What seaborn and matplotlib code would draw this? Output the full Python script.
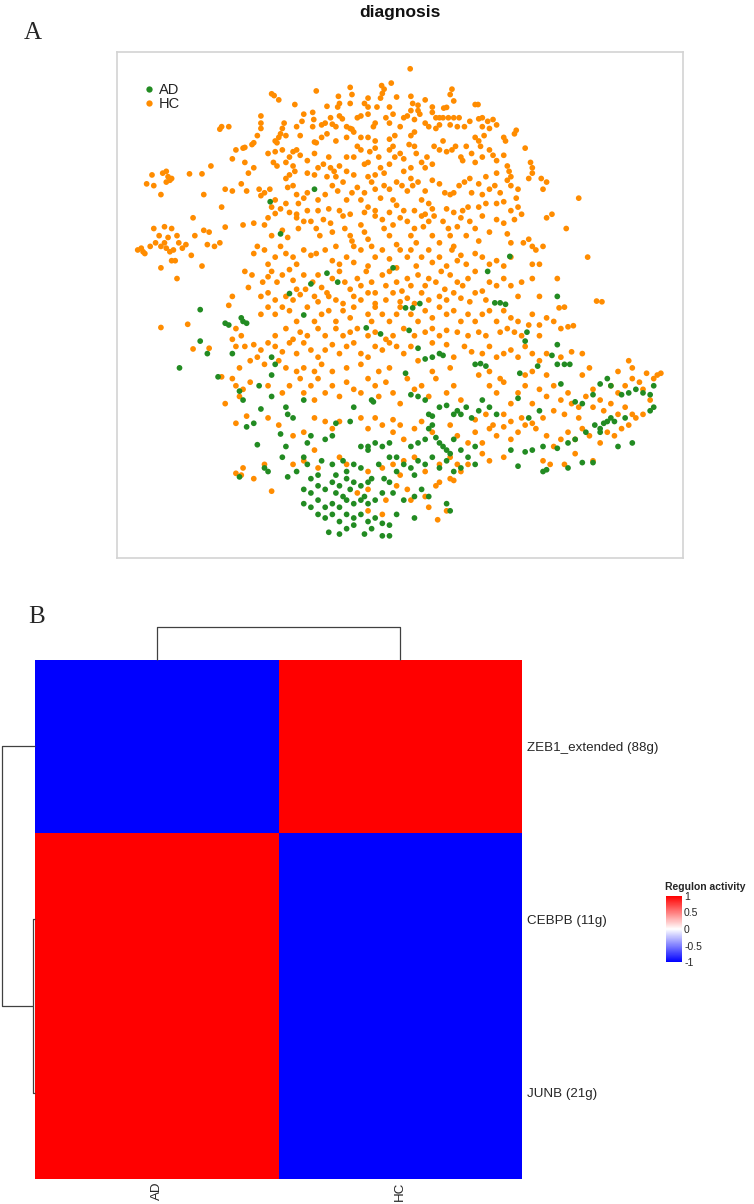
import numpy as np
import pandas as pd
import matplotlib
matplotlib.use("Agg")
import matplotlib.pyplot as plt
import seaborn as sns
from matplotlib.colors import LinearSegmentedColormap

# ---------------- data: panel A (UMAP-like embedding, arbitrary units) ----------------
hc_points = [
 (818,193),(738,240),(765,233),(745,250),(740,262),(650,245),(655,265),(555,255),(430,263),(437,268),(450,280),
 (617,270),(620,290),(615,300),(585,298),(495,293),(650,290),(690,290),(700,300),(700,275),(735,275),(780,272),
 (820,270),(825,290),(840,295),(860,280),(935,250),(930,265),(940,283),(880,300),(1000,293),(1008,293),(912,303),
 (920,301),(725,300),(760,300),
 (400,325),(400,345),(400,360),(390,380),(375,405),(380,400),(355,413),(290,355),(310,355),(285,362),(465,345),
 (460,360),(455,375),(450,385),(470,380),(440,395),(445,400),(520,320),(515,340),(500,355),(510,380),(545,315),
 (548,335),(545,355),(570,350),(580,345),(595,330),(600,348),(610,355),(620,325),(628,333),(640,355),(650,360),
 (655,362),(660,370),(670,330),(680,325),(700,320),(720,345),(715,355),(750,330),(760,345),(770,320),(790,355),
 (800,330),(810,325),(820,310),(830,335),(840,310),(845,320),(860,345),(870,355),(880,315),(890,330),(900,330),
 (910,330),(925,330),(940,330),(955,330),(930,350),(950,355),(970,355),(985,340),(1010,333),(1020,330),(1035,340),
 (1050,335),(1060,350),(1040,360),(1020,355),(900,350),(890,360),(830,370),(820,380),(775,380),(760,390),(720,395),
 (700,385),(680,385),(640,385),(610,395),(585,375),(570,385),(550,398),(1000,385),(1025,380),(1010,395),(1080,385),
 (1110,375),(1085,395),(1115,365),
 (350,415),(330,420),(320,445),(355,455),(380,470),(365,485),(260,465),(235,487),(200,487),(420,430),(440,425),
 (460,420),(435,455),(445,465),(470,455),(480,440),(490,425),(500,420),(510,435),(490,465),(495,480),(480,490),
 (470,500),(530,450),(550,430),(555,400),(560,470),(575,460),(590,440),(595,470),(605,480),(620,465),(640,440),
 (660,440),(670,410),(680,420),(690,460),(700,455),(705,425),(720,415),(730,440),(735,470),(745,485),(760,420),
 (770,410),(775,440),(790,430),(800,445),(815,405),(830,410),(835,430),(850,455),(865,440),(885,410),(900,420),
 (910,395),(920,425),(935,420),(945,410),(960,440),(965,450),(975,410),(990,430),(1000,455),(1015,410),(1020,440),
 (1040,420),(1050,435),(1060,450),(1080,435),(1090,465),(1095,480),(1140,415),(1155,455),(1160,470),(1160,485),
 (1185,500),(1200,510),(880,460),(860,470),(820,470),(800,480),(760,460),(720,490),(700,495),(660,490),(640,480),
 (610,495),(585,495),(550,490),(530,485),(1030,495),(1060,485),(1100,495),
 (300,530),(320,535),(240,545),(290,580),(345,515),(360,535),(395,530),(400,548),(410,540),(425,530),(430,580),
 (440,560),(455,585),(470,570),(475,525),(490,520),(500,545),(505,570),(520,555),(530,540),(560,560),(580,545),
 (600,520),(615,535),(630,510),(640,560),(655,540),(670,525),(680,560),(690,540),(700,580),(710,510),(720,530),
 (735,555),(745,520),(760,530),(770,560),(780,510),(795,520),(810,535),(820,500),(825,520),(840,510),(850,560),
 (860,535),(870,570),(880,505),(900,515),(915,540),(930,545),(940,540),(955,520),(970,510),(985,500),(990,540),
 (1010,515),(1020,545),(1040,530),(1055,520),(1070,540),(1090,505),(1100,520),(1115,555),(1120,530),(1150,500),
 (1190,530),(1290,555),(1010,580),(1030,570),(1060,570),(1080,565),(1100,590),(1120,580),(965,590),(980,580),
 (940,595),(920,585),(880,585),(860,600),(830,590),(800,590),(780,575),(760,595),(720,590),(690,595),(650,600),
 (620,590),(590,585),(560,590),(530,590),(500,600),(480,595),
 (80,515),(95,490),(100,520),(120,545),(125,485),(135,480),(140,495),(145,505),(150,500),(135,510),
 (55,700),(70,705),(65,695),(75,710),(90,690),(105,680),(120,690),(130,680),(140,665),(135,695),(145,705),
 (155,700),(150,730),(160,730),(170,680),(180,695),(190,685),(205,715),(120,750),(165,780),(235,745),(250,685),
 (270,690),(285,680),(100,640),(115,660),(130,635),(150,640),(165,660),(210,610),(215,660),(240,645),(255,650),
 (300,636),(350,630),(380,625),(410,630),(420,610),(440,598),
 (430,660),(460,645),(475,665),(455,690),(500,610),(520,620),(505,640),(540,620),(555,640),(565,660),(575,615),
 (595,625),(600,650),(610,690),(630,605),(635,640),(650,660),(655,675),(660,690),(680,630),(690,650),(700,670),
 (710,690),(720,605),(740,615),(745,640),(760,660),(770,630),(780,685),(790,610),(810,620),(820,660),(830,640),
 (835,680),(850,605),(855,635),(870,620),(880,660),(885,605),(900,680),(910,620),(925,640),(930,660),(940,690),
 (950,635),(960,610),(975,660),(985,620),(1000,640),(1010,675),(1020,605),(1040,650),(1060,615),(1080,625),
 (1090,655),(1100,680),(1110,615),(1130,600),(1135,680),(1150,670),(1160,690),(1170,700),(1190,690),(1215,600),
 (1255,640),(1315,720),(1200,610),
 (380,710),(390,690),(410,700),(420,740),(440,720),(470,710),(490,720),(500,740),(520,700),(540,715),(555,710),
 (580,700),(600,730),(620,740),(640,720),(660,735),(680,700),(700,745),(720,720),(740,700),(760,725),(780,750),
 (790,700),(810,720),(820,700),(835,745),(850,720),(870,700),(880,735),(900,720),(920,745),(935,700),(950,730),
 (960,715),(975,740),(1000,710),(1020,720),(1040,740),(1060,730),(1080,745),(1100,720),(1160,740),(1180,740),
 (355,760),(375,770),(365,805),(405,790),(420,775),(430,760),(445,790),(460,770),(480,755),(490,785),(500,810),
 (520,770),(545,790),(560,770),(570,805),(585,820),(600,780),(620,760),(635,790),(650,810),(670,780),(680,800),
 (695,760),(710,790),(720,820),(740,770),(750,800),(760,760),(780,790),(795,815),(810,780),(820,800),(840,770),
 (860,800),(870,780),(890,790),(905,760),(915,810),(930,770),(950,790),(965,800),(980,780),(1000,760),(1020,815),
 (1040,790),(1060,800),(1080,780),(1100,800),(1130,790),(1160,780),(1180,830),(1230,780),(320,830),(310,855),
 (400,830),(420,820),(440,840),(470,830),(490,840),(510,825),(525,810),(550,830),(560,845),(590,830),(610,840),
 (630,850),(660,830),(680,840),(700,820),(720,850),(750,840),(770,820),(790,845),(810,835),(830,850),(850,820),
 (870,840),(900,830),(920,840),(940,820),(960,835),(985,845),(1000,820),(1030,840),(1120,830),(1235,862),
 (1250,860),(1340,843),(1355,845),
 (120,917),(195,908),(320,950),(330,920),(345,940),(400,880),(420,860),(440,880),(460,860),(480,870),(500,900),
 (530,860),(550,900),(570,880),(590,870),(610,900),(630,870),(650,890),(660,860),(700,880),(710,900),(720,860),
 (740,880),(760,900),(780,880),(790,860),(820,880),(840,900),(860,870),(880,890),(900,860),(920,880),(940,870),
 (960,900),(980,880),(1000,900),(1020,880),(1040,870),(1060,900),(1080,870),(1100,890),(1120,900),(1160,880),
 (1180,910),(1200,890),(1220,900),(1240,920),(1260,915),(1275,912),(440,940),(470,920),(490,950),(510,930),
 (530,940),(560,920),(580,940),(610,920),(630,940),(650,930),(670,920),(700,940),(720,930),(750,950),(770,940),
 (800,920),(830,940),(860,930),(880,920),(900,940),(920,925),(950,930),(980,940),(1010,930),(1030,940),(1070,930),
 (1090,920),(1110,930),(1130,940),(1150,910),(1180,940),
 (210,977),(255,975),(290,1055),(330,970),(355,970),(380,965),(400,980),(420,960),(440,970),(460,985),(480,960),
 (500,990),(520,960),(540,980),(560,1000),(580,980),(600,965),(620,990),(640,970),(660,960),(680,990),(700,1000),
 (720,970),(740,980),(760,960),(780,970),(800,990),(820,970),(840,1010),(880,960),(920,965),(940,1000),(970,970),
 (990,985),(1020,990),(1040,970),(1060,1000),(1080,990),(1100,980),(1120,1000),(1140,970),(1160,990),(1180,1010),
 (1200,990),(1240,1000),(1270,985),(1300,990),(1320,1030),(1400,1040),(1430,1010),(1440,1030),(340,1030),
 (370,1010),(390,1000),(410,1020),(450,1010),(470,1030),(500,1040),(520,1030),(550,1040),(570,1020),(600,1040),
 (640,1030),(680,1020),(730,1040),(760,1030),(880,1040),(930,1030),(1040,1040),(1070,1060),(1140,1050),(1160,1040),
 (1200,1050),(1300,1050),
 (320,1060),(330,1080),(340,1110),(300,1130),(350,1090),(370,1070),(420,1080),(460,1100),(480,1080),(510,1060),
 (520,1100),(540,1080),(550,1120),(560,1060),(580,1100),(600,1080),(620,1110),(640,1070),(660,1090),(680,1100),
 (700,1060),(720,1080),(730,1110),(750,1070),(770,1100),(790,1130),(810,1060),(830,1090),(850,1080),(870,1110),
 (890,1060),(920,1100),(940,1080),(960,1120),(1010,1050),(1040,1080),(1060,1100),(1080,1070),(1100,1130),
 (1120,1100),(1140,1080),(1160,1130),(1180,1090),(1200,1110),(1220,1080),(1240,1120),(1260,1100),(1270,1130),
 (1290,1140),(1310,1110),(1330,1090),(1350,1120),(1380,1080),(1400,1100),(1420,1080),(1440,1060),(1460,1070),
 (1480,1045),(1500,1060),(1510,1050),(1520,1045),(1470,1090),(1490,1120),(1420,1140),(1440,1160),(1400,1160),
 (1380,1130),(1360,1150),(1330,1140),(1290,1170),(1250,1160),(1220,1150),(1190,1170),(1160,1185),(1130,1170),
 (1100,1180),(1080,1160),(1050,1190),(1030,1160),(1000,1175),
 (330,1185),(360,1165),(420,1170),(450,1190),(490,1220),(520,1210),(550,1170),(580,1180),(600,1200),(620,1180),
 (680,1170),(700,1200),(720,1170),(740,1190),(770,1175),(770,1210),(790,1190),(800,1230),(830,1200),(850,1180),
 (880,1210),(930,1190),(950,1220),(980,1240),(1000,1210),(1020,1240),(1040,1200),(1060,1220),(1080,1195),
 (1100,1230),(1120,1210),(1140,1190),(1170,1200),(1200,1220),(1220,1250),(1240,1230),(1260,1210),(1280,1230),
 (1300,1200),(1320,1220),(1350,1240),(1370,1210),(1390,1220),(1410,1200),(1430,1190),(1450,1170),(1470,1160),
 (330,1325),(345,1330),(350,1310),(380,1340),(410,1300),(430,1375),(490,1300),(520,1290),(550,1260),(560,1310),
 (620,1280),(640,1300),(700,1320),(740,1310),(770,1300),(790,1330),(800,1290),(830,1280),(860,1320),(900,1300),
 (930,1280),(950,1300),(960,1320),(980,1300),(1020,1270),(1040,1290),(1080,1280),(1190,1290),(1210,1300),
 (1250,1300),(1280,1270),(1330,1290),
 (670,1380),(700,1370),(780,1360),(810,1370),(820,1400),(860,1390),(870,1420),(890,1360),(900,1350),(920,1430),
 (930,1340),(940,1345),(895,1455),(750,1400),(740,1440),(700,1430),
]

ad_points = [
 (426,565),(550,530),(455,655),(1097,718),(770,750),(585,765),(1035,760),(480,822),(540,795),(615,790),
 (805,862),(825,862),(845,850),(1055,848),(1070,848),(1085,852),(1230,830),
 (230,867),(300,905),(310,910),(345,890),(350,900),(360,905),(520,882),(695,918),(735,935),(815,925),
 (1145,930),(1140,955),
 (250,990),(230,955),(320,990),(172,1030),(430,1000),(440,1020),(430,1050),(840,975),(860,1005),(880,1000),
 (900,990),(910,995),(1000,1020),(1015,1018),(1030,1025),(1230,965),(1215,995),(1230,1020),(1250,1020),
 (1265,1020),(1175,1025),(1125,1045),(805,1045),
 (280,1055),(340,1095),(350,1120),(395,1080),(400,1145),(430,1110),(470,1140),(475,1160),(490,1170),(520,1120),
 (660,1140),(710,1120),(715,1125),(820,1105),(840,1110),(860,1120),(870,1160),(880,1165),(900,1140),(920,1135),
 (940,1160),(950,1150),(960,1160),(975,1140),(990,1170),(1010,1150),(1020,1120),(1040,1140),(1060,1160),
 (1120,1115),(1150,1170),(1180,1150),(1240,1075),(1280,1125),(1300,1130),(1330,1105),(1350,1075),(1370,1060),
 (1380,1080),(1410,1105),(1430,1100),(1450,1090),(1470,1100),(1490,1105),(1500,1080),(1490,1150),(1500,1140),
 (1420,1170),(1390,1180),(1370,1180),(1350,1200),(1335,1190),
 (360,1195),(380,1185),(390,1245),(455,1215),(470,1250),(530,1240),(540,1220),(580,1230),(600,1220),(610,1185),
 (650,1180),(680,1250),(700,1250),(720,1240),(740,1250),(760,1240),(780,1280),(820,1250),(840,1240),(860,1230),
 (870,1200),(880,1190),(890,1225),(900,1240),(910,1250),(920,1260),(930,1270),(940,1230),(960,1260),(980,1280),
 (1000,1250),(1100,1260),(1140,1265),(1160,1260),(1190,1250),(1230,1255),(1260,1240),(1280,1230),(1310,1210),
 (1350,1210),(1360,1185),(1400,1250),(1440,1240),(1380,1170),
 (340,1335),(410,1310),(420,1320),(460,1280),(475,1335),(500,1320),(520,1280),(530,1300),(540,1340),(560,1330),
 (570,1290),(600,1300),(610,1330),(630,1290),(640,1320),(660,1300),(680,1310),(700,1260),(710,1340),(730,1300),
 (745,1340),(760,1280),(780,1320),(800,1300),(820,1310),(830,1330),(840,1290),(860,1300),(880,1280),(900,1310),
 (920,1290),(940,1320),(960,1310),(1000,1300),(1120,1305),(1190,1320),(1200,1315),(1260,1310),(1300,1295),
 (1330,1295),
 (520,1370),(540,1380),(560,1360),(580,1370),(600,1350),(610,1380),(620,1360),(630,1390),(640,1340),(650,1370),
 (660,1350),(680,1360),(690,1390),(700,1350),(520,1410),(540,1420),(560,1400),(580,1420),(600,1410),(620,1420),
 (640,1400),(660,1410),(680,1400),(700,1410),(720,1400),(740,1380),(760,1350),(770,1380),(800,1400),(830,1390),
 (850,1370),(870,1390),(560,1440),(580,1450),(600,1440),(620,1460),(640,1440),(660,1450),(680,1440),(700,1460),
 (720,1450),(740,1465),(760,1470),(780,1440),(830,1450),(590,1490),(620,1495),(640,1480),(660,1470),(690,1495),
 (710,1480),(740,1500),(760,1500),(930,1430),(920,1410),
]

diagnosis_levels = ["AD", "HC"]
diagnosis_colors = ["#228B22", "#FF8C00"]

# ---------------- data: panel B (regulon activity heatmap) ----------------
regulons = ["ZEB1_extended (88g)", "CEBPB (11g)", "JUNB (21g)"]
groups = ["AD", "HC"]
activity_AD = [-1.0, 1.0, 1.0]
activity_HC = [1.0, -1.0, -1.0]
col_merge_height = 1.0          # AD / HC join
row_merge_heights = [0.06, 1.0]  # CEBPB+JUNB join, then root with ZEB1
cbar_ticks = [-1, -0.5, 0, 0.5, 1]
cbar_ticklabels = ["-1", "-0.5", "0", "0.5", "1"]

# ---------------- figure ----------------
sns.set_theme(style="white")
plt.rcParams["font.family"] = ["Liberation Sans", "DejaVu Sans"]

W, H = 754, 1204
fig = plt.figure(figsize=(W / 100, H / 100), dpi=100)

def fax(l, t, r, b):
    return fig.add_axes([l / W, 1 - b / H, (r - l) / W, (b - t) / H])

# ---- Panel A ----
axA = fax(117, 52, 683, 558)
df = pd.DataFrame(
    [(x, y, "HC") for x, y in hc_points] + [(x, y, "AD") for x, y in ad_points],
    columns=["UMAP_1", "UMAP_2", "diagnosis"],
)
sns.scatterplot(data=df, x="UMAP_1", y="UMAP_2", hue="diagnosis",
                hue_order=diagnosis_levels, palette=diagnosis_colors,
                s=17, linewidth=0, ax=axA, legend=True)
axA.set_xlim(-3, 1582)
axA.set_ylim(1562, 146)
axA.set_xticks([]); axA.set_yticks([])
axA.set_xlabel(""); axA.set_ylabel("")
for sp in axA.spines.values():
    sp.set_color("#d3d3d3"); sp.set_linewidth(1.2)
leg = axA.legend(loc="upper left", bbox_to_anchor=(0.046, 0.938), frameon=False,
                 fontsize=10.5, handlelength=0.8, handletextpad=0.3, labelspacing=0.0,
                 borderpad=0, borderaxespad=0, markerscale=1.1)
for t in leg.get_texts():
    t.set_color("#222222")
fig.text(400 / W, 1 - 13 / H, "diagnosis", ha="center", va="center",
         fontsize=12.5, fontweight="bold", color="#111111")
fig.text(33 / W, 1 - 33 / H, "A", ha="center", va="center", fontsize=18,
         family=["Liberation Serif", "DejaVu Serif"])

# ---- Panel B ----
fig.text(37 / W, 1 - 617 / H, "B", ha="center", va="center", fontsize=18,
         family=["Liberation Serif", "DejaVu Serif"])
hm = pd.DataFrame({"AD": activity_AD, "HC": activity_HC}, index=regulons)[groups]
cmap = LinearSegmentedColormap.from_list("bwr_ch", ["#0000FF", "#FFFFFF", "#FF0000"])
axH = fax(35, 660, 522, 1179)
cax = fax(666, 896, 682, 962)
sns.heatmap(hm, ax=axH, cmap=cmap, vmin=-1, vmax=1, cbar_ax=cax,
            cbar_kws={"ticks": cbar_ticks})
axH.yaxis.tick_right()
axH.set_yticklabels(regulons, rotation=0, fontsize=9.6)
axH.set_xticklabels(groups, rotation=90, fontsize=9.6)
axH.tick_params(axis="y", length=0, pad=3.6)
axH.tick_params(axis="x", length=0, pad=2.0)
axH.set_xlabel(""); axH.set_ylabel("")

cax.set_yticks(cbar_ticks)
cax.set_yticklabels(cbar_ticklabels, fontsize=7.5)
cax.tick_params(axis="y", direction="in", color="white", length=2.5, width=0.8,
                left=True, right=True, pad=1.5)
cax.set_title("Regulon activity", fontsize=7.5, fontweight="bold", loc="left",
              pad=4, x=-0.05)

# dendrograms
line_kw = dict(color="#404040", lw=0.9, clip_on=False, solid_capstyle="butt")
axC = fax(35, 627, 522, 660)
axC.set_xlim(0, len(groups)); axC.set_ylim(0, col_merge_height)
axC.plot([0.5, 0.5, 1.5, 1.5], [0, col_merge_height, col_merge_height, 0], **line_kw)
axC.axis("off")

axR = fax(2, 660, 35, 1179)
axR.set_ylim(len(regulons), 0); axR.set_xlim(row_merge_heights[1], 0)
h1, h2 = row_merge_heights
axR.plot([0, h1, h1, 0], [1.5, 1.5, 2.5, 2.5], **line_kw)
axR.plot([0, h2, h2, h1], [0.5, 0.5, 2.0, 2.0], **line_kw)
axR.axis("off")

fig.savefig("out.png", dpi=100)
